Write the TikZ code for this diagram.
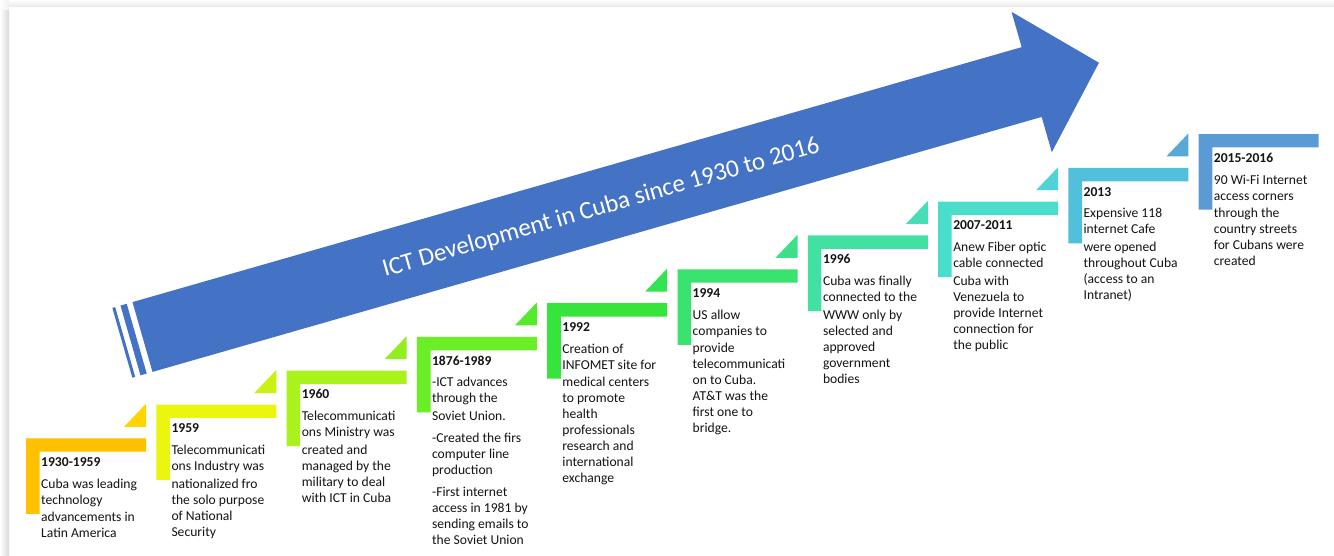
\documentclass[tikz,border=0pt]{standalone}
\usepackage{fontspec}
\setmainfont{Carlito}
\definecolor{arrowblue}{HTML}{4472C4}
\definecolor{L1}{HTML}{FFC000}\definecolor{T1}{HTML}{FFD400}
\definecolor{L2}{HTML}{EBF60F}\definecolor{T2}{HTML}{C9F212}
\definecolor{L3}{HTML}{A9F21C}\definecolor{T3}{HTML}{92EE20}
\definecolor{L4}{HTML}{6AEE27}\definecolor{T4}{HTML}{55EA2B}
\definecolor{L5}{HTML}{37E43B}\definecolor{T5}{HTML}{33E452}
\definecolor{L6}{HTML}{3AE26E}\definecolor{T6}{HTML}{3EDF8A}
\definecolor{L7}{HTML}{42E1A3}\definecolor{T7}{HTML}{46DEB6}
\definecolor{L8}{HTML}{4ADDCB}\definecolor{T8}{HTML}{4FD3D9}
\definecolor{L9}{HTML}{52C0DA}\definecolor{T9}{HTML}{57AAD7}
\definecolor{L10}{HTML}{5B9BD5}
\begin{document}
\begin{tikzpicture}[x=1pt,y=-1pt,
  txt/.style={anchor=north west, inner sep=0pt, align=left, text=black!92,
    font=\fontsize{13.6}{16}\selectfont},
  titletext/.style={anchor=base, inner sep=0pt, text=white, rotate=16,
    font=\fontsize{25}{30}\selectfont}]
\useasboundingbox (0,0) rectangle (1334,556);
\fill[white] (0,0) rectangle (1334,556);
% page shadow
\shade[left color=white, right color=black!15] (0,10) rectangle (9,556);
\shade[top color=white, bottom color=black!9] (9,0) rectangle (1334,7);
\shade[left color=white, right color=black!6] (0,0) rectangle (9,10);
% big arrow
\begin{scope}[shift={(142.5,337)}, rotate=16]
  \fill[arrowblue] (0,-36.3) -- (925,-36.3) -- (925,-73) -- (995,0)
     -- (925,73) -- (925,36.3) -- (0,36.3) -- cycle;
  \fill[arrowblue] (-12.5,-36.3) rectangle (-6,36.3);
  \fill[arrowblue] (-21,-36.3) rectangle (-18,36.3);
  \node[titletext] (title) at (476.5,9) {ICT Development in Cuba since 1930 to 2016};
\end{scope}
% steps
\foreach \k in {1,...,10} {
  \pgfmathsetmacro\lx{26+130.3*(\k-1)}
  \pgfmathsetmacro\ty{438.3-33.8*(\k-1)}
  \fill[L\k] (\lx,\ty) -- ++(120,0) -- ++(0,13.4) -- ++(-106.4,0)
     -- ++(0,62.1) -- ++(-13.6,0) -- cycle;
}
\foreach \k in {1,...,9} {
  \pgfmathsetmacro\rx{146+130.3*(\k-1)}
  \pgfmathsetmacro\ty{438.3-33.8*(\k-1)}
  \fill[T\k] (\rx,\ty-11.5) -- (\rx,\ty-34.5) -- (\rx-22,\ty-11.5) -- cycle;
}
% texts
\node[txt] (s1) at (41,455.1) {\strut\textbf{1930-1959}\\[5.8pt]
  Cuba was leading\\ technology\\[1.6pt] advancements in\\ Latin America};
\node[txt] (s2) at (171.3,421.3) {\strut\textbf{1959}\\[5.8pt]
  Telecommunicati\\ ons Industry was\\[1.6pt] nationalized fro\\ the solo purpose\\ of National\\ Security};
\node[txt] (s3) at (301.6,387.5) {\strut\textbf{1960}\\[5.8pt]
  Telecommunicati\\ ons Ministry was\\[1.6pt] created and\\ managed by the\\ military to deal\\ with ICT in Cuba};
\node[txt] (s4) at (431.9,353.7) {\strut\textbf{1876-1989}\\[5.8pt]
  -ICT advances\\ through the\\[1.6pt] Soviet Union.\\[5.8pt]
  -Created the firs\\ computer line\\ production\\[6pt]
  -First internet\\ access in 1981 by\\ sending emails to\\ the Soviet Union};
\node[txt] (s5) at (562.2,319.9) {\strut\textbf{1992}\\[5.8pt]
  Creation of\\ INFOMET site for\\[1.6pt] medical centers\\ to promote\\ health\\ professionals\\ research and\\ international\\ exchange};
\node[txt] (s6) at (692.5,286.1) {\strut\textbf{1994}\\[5.8pt]
  US allow\\ companies to\\[1.6pt] provide\\ telecommunicati\\ on to Cuba.\\ AT\&T was the\\ first one to\\ bridge.};
\node[txt] (s7) at (822.8,252.3) {\strut\textbf{1996}\\[5.8pt]
  Cuba was finally\\ connected to the\\[1.6pt] WWW only by\\ selected and\\ approved\\ government\\ bodies};
\node[txt] (s8) at (953.1,218.5) {\strut\textbf{2007-2011}\\[5.8pt]
  Anew Fiber optic\\ cable connected\\[1.6pt] Cuba with\\ Venezuela to\\ provide Internet\\ connection for\\ the public};
\node[txt] (s9) at (1083.4,184.7) {\strut\textbf{2013}\\[5.8pt]
  Expensive 118\\ internet Cafe\\[1.6pt] were opened\\ throughout Cuba\\ (access to an\\ Intranet)};
\node[txt] (s10) at (1213.7,150.9) {\strut\textbf{2015-2016}\\[5.8pt]
  90 Wi-Fi Internet\\ access corners\\[1.6pt] through the\\ country streets\\ for Cubans were\\ created};
\end{tikzpicture}
\end{document}
